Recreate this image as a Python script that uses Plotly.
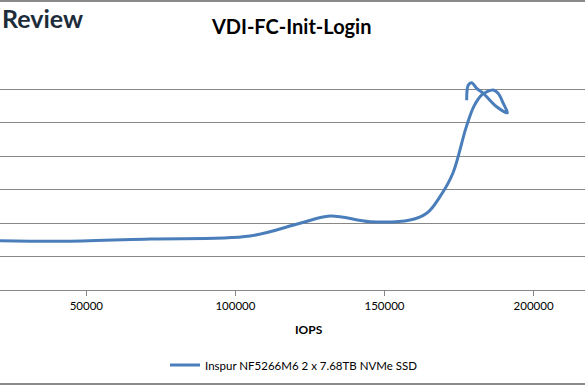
import plotly.graph_objects as go

# IOPS (x) and average latency (y, arbitrary ms scale; y labels are cropped in the reference)
iops = [21060, 42860, 71360, 104890, 121660, 131720, 145140, 158550, 164250,
        168610, 172960, 177330, 180020, 182770, 184270, 186480, 188160, 189840,
        191180, 187620, 183130, 180920, 179240, 178100, 177560]
latency = [1.475, 1.457, 1.526, 1.615, 1.995, 2.214, 2.043, 2.094, 2.303,
           2.791, 3.500, 4.850, 5.500, 5.850, 5.930, 5.980, 5.880, 5.580,
           5.300, 5.480, 5.880, 6.030, 6.200, 6.130, 5.680]
series_name = "Inspur NF5266M6 2 x 7.68TB NVMe SSD"
x_ticks = [50000, 100000, 150000, 200000]

W, H = 585, 385
top, bottom = 56, 290
ph = bottom - top

def py(p):
    return (bottom - p) / ph

fig = go.Figure()
fig.add_trace(go.Scatter(
    x=iops, y=latency, mode="lines", name=series_name,
    line=dict(color="#4A7EBB", width=3, shape="spline", smoothing=1.0),
))

grid = "#878787"
fig.update_layout(
    width=W, height=H,
    margin=dict(l=0, r=0, t=top, b=H - bottom, pad=0, autoexpand=False),
    paper_bgcolor="white", plot_bgcolor="white",
    font=dict(family="Lato, Open Sans, sans-serif", color="#000000"),
    title=dict(text="<b>VDI-FC-Init-Login</b>", x=291.7 / W, xanchor="center",
               y=1 - 26.7 / H, yanchor="middle", xref="container", yref="container",
               font=dict(size=20, color="#000000", family="Lato, sans-serif")),
    xaxis=dict(range=[21060, 217240], tickvals=x_ticks, ticktext=[str(v) for v in x_ticks],
               showgrid=False, zeroline=False, showline=True, linecolor=grid, linewidth=1,
               ticks="outside", ticklen=5, tickcolor=grid, tickwidth=1,
               tickfont=dict(size=11.5, color="#000000")),
    yaxis=dict(range=[0, 7], dtick=1, showgrid=True, gridcolor=grid, gridwidth=1,
               zeroline=False, showticklabels=False, showline=False),
    showlegend=True,
    legend=dict(orientation="h", x=165 / W, xanchor="left", y=py(365), yanchor="middle",
                font=dict(size=11.5, color="#000000"), bgcolor="rgba(0,0,0,0)"),
    annotations=[
        dict(text="<b>IOPS</b>", xref="paper", yref="paper", x=309 / W, y=py(329),
             xanchor="center", yanchor="middle", showarrow=False,
             font=dict(size=12, color="#000000")),
        dict(text="<b>Review</b>", xref="paper", yref="paper", x=0, y=py(18),
             xanchor="left", yanchor="middle", showarrow=False,
             font=dict(size=25, color="#1d2c3a", family="Lato, sans-serif")),
    ],
)
# chart frame lines (top and bottom edges of the cropped chart border)
fig.add_shape(type="line", xref="paper", yref="paper", x0=-0.01, x1=1.01,
              y0=py(1), y1=py(1), line=dict(color="#8a8a8a", width=2), layer="above")
fig.add_shape(type="line", xref="paper", yref="paper", x0=-0.01, x1=1.01,
              y0=py(384), y1=py(384), line=dict(color="#8a8a8a", width=2), layer="above")

fig.write_html("out.html", config={"displayModeBar": False},
               post_script="document.body.style.margin='0';")
